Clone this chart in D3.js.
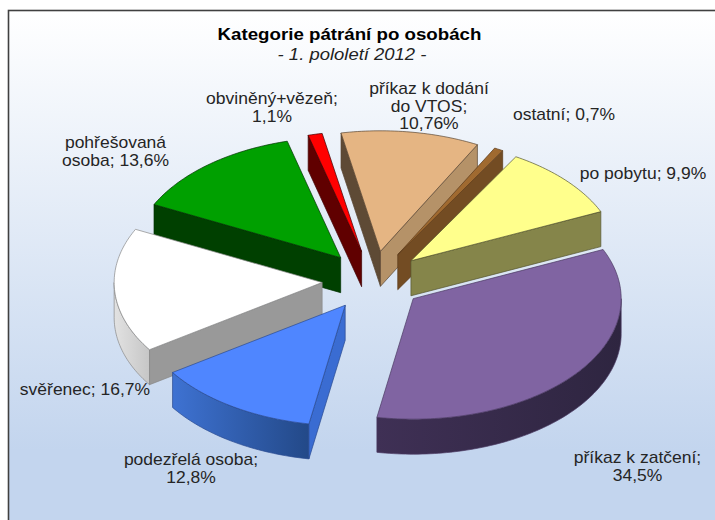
<!DOCTYPE html>
<html lang="cs">
<head>
<meta charset="utf-8">
<script src="https://cdn.jsdelivr.net/npm/d3@7"></script>
<style>
html,body{margin:0;padding:0;background:#fff;overflow:hidden}
svg{display:block}
text{font-family:"Liberation Sans",Arial,sans-serif}
</style>
</head>
<body>
<svg id="chart" width="715" height="520"></svg>
<script>
const categories = ["po pobytu","příkaz k zatčení","podezřelá osoba","svěřenec","pohřešovaná osoba","obviněný+vězeň","příkaz k dodání do VTOS","ostatní"];
const percentValues = [9.9,34.5,12.8,16.7,13.6,1.1,10.76,0.7];
const percentLabels = ["9,9%","34,5%","12,8%","16,7%","13,6%","1,1%","10,76%","0,7%"];
const topColors = ["#FFFF8C","#8064A2","#4F86FF","#FFFFFF","#00A000","#FF0000","#E5B583","#A06A30"];
const startCutColors = ["#85854A","#3C2D50","#3A6CD2","#999999","#004000","#600000","#5E4A35","#734C23"];
const endCutColors = ["#85854A","#3C2D50","#3A6CD2","#999999","#004000","#600000","#B59268","#734C23"];
const wallColorsA = ["#85854A","#3F3055","#3E72D2","#E2E2E2","#004000","#600000","#5E4A35","#734C23"];
const wallColorsB = ["#85854A","#2E2540","#234988","#C6C6C6","#004000","#600000","#5E4A35","#734C23"];
const strokeColors = ["#55552f","#4a3a62","#2a4a90","#888888","#003000","#400000","#5a4632","#5a3a1a"];
const labelLines = [
  {lines:["po pobytu; 9,9%"],x:643,y:179},
  {lines:["příkaz k zatčení;","34,5%"],x:637.5,y:463},
  {lines:["podezřelá osoba;","12,8%"],x:191,y:465},
  {lines:["svěřenec; 16,7%"],x:85,y:395},
  {lines:["pohřešovaná","osoba; 13,6%"],x:115.5,y:148},
  {lines:["obviněný+vězeň;","1,1%"],x:272,y:104},
  {lines:["příkaz k dodání","do VTOS;","10,76%"],x:429,y:94},
  {lines:["ostatní; 0,7%"],x:564,y:120}
];
const titleText = "Kategorie pátrání po osobách";
const subtitleText = "- 1. pololetí 2012 -";

const svg = d3.select("#chart");
const W = 715, H = 520;

// projection of the tilted pie
const cx = 373, cy = 280.5, rx = 208, ry = 120.5, depth = 35, explode = 0.245;
const xUnit = d3.scaleLinear().domain([-1,1]).range([-rx,rx]);
const yUnit = d3.scaleLinear().domain([-1,1]).range([-ry,ry]);
const rot = 30.3*Math.PI/180;

const defs = svg.append("defs");
const bg = defs.append("linearGradient").attr("id","bg").attr("x1",0).attr("y1",0).attr("x2",0).attr("y2",1);
bg.append("stop").attr("offset","0%").attr("stop-color","#FFFFFF");
bg.append("stop").attr("offset","83%").attr("stop-color","#C3D5EE");
bg.append("stop").attr("offset","100%").attr("stop-color","#C3D5EE");

svg.append("rect").attr("x",8.5).attr("y",10.5).attr("width",W+10).attr("height",H+10)
  .attr("fill","url(#bg)").attr("stroke","#404040").attr("stroke-width",1.6);

const pie = d3.pie().sort(null).startAngle(rot).endAngle(rot+2*Math.PI);
const arcs = pie(percentValues).map((a,i)=>({...a,i}));

const line = d3.line().x(d=>d[0]).y(d=>d[1]);
const sweep = (a0,a1)=>{ const n=Math.max(2,Math.ceil((a1-a0)/0.02)); return d3.range(n+1).map(k=>a0+(a1-a0)*k/n); };

// z-order: back to front
const order = [5,6,7,4,3,2,0,1];
order.forEach(i=>{
  const a = arcs[i];
  const mid = (a.startAngle+a.endAngle)/2;
  const ox = cx + xUnit(explode*Math.sin(mid));
  const oy = cy + yUnit(-explode*Math.cos(mid));
  const px = t=>ox+xUnit(Math.sin(t)), py = t=>oy+yUnit(-Math.cos(t));
  const g = svg.append("g").attr("data-cat",categories[i]);
  const sw = .7;

  // outer wall, only the front facing part of the rim
  const ranges = [[Math.PI/2,3*Math.PI/2],[Math.PI/2+2*Math.PI,3*Math.PI/2+2*Math.PI]];
  ranges.forEach(r=>{
    const s = Math.max(a.startAngle,r[0]), e = Math.min(a.endAngle,r[1]);
    if(e<=s) return;
    const ts = sweep(s,e);
    const outer = ts.map(t=>[px(t),py(t)]);
    const lower = ts.slice().reverse().map(t=>[px(t),py(t)+depth]);
    const gid = "wall"+i;
    const xs = outer.map(p=>p[0]);
    const gr = defs.append("linearGradient").attr("id",gid).attr("gradientUnits","userSpaceOnUse")
      .attr("x1",d3.min(xs)).attr("x2",d3.max(xs)).attr("y1",0).attr("y2",0);
    gr.append("stop").attr("offset","0%").attr("stop-color",wallColorsA[i]);
    gr.append("stop").attr("offset","100%").attr("stop-color",wallColorsB[i]);
    g.append("path").attr("d",line(outer.concat(lower))+"Z").attr("fill",`url(#${gid})`)
      .attr("stroke",strokeColors[i]).attr("stroke-width",sw);
  });

  // cut faces
  const cut = (t,color)=>{
    g.append("path").attr("d",line([[ox,oy],[px(t),py(t)],[px(t),py(t)+depth],[ox,oy+depth]])+"Z")
      .attr("fill",color).attr("stroke",strokeColors[i]).attr("stroke-width",sw);
  };
  if(Math.sin(a.startAngle)<0) cut(a.startAngle,startCutColors[i]);
  if(Math.sin(a.endAngle)>0) cut(a.endAngle,endCutColors[i]);

  // top face
  const top = [[ox,oy]].concat(sweep(a.startAngle,a.endAngle).map(t=>[px(t),py(t)]));
  g.append("path").attr("d",line(top)+"Z").attr("fill",topColors[i])
    .attr("stroke",strokeColors[i]).attr("stroke-width",sw);
});

// texts (the reference is stretched slightly in width)
const stretched = (x,y,str,size,sx)=>svg.append("text")
  .attr("transform",`translate(${x},${y}) scale(${sx},1)`)
  .attr("text-anchor","middle").attr("font-size",size).text(str);
stretched(349.5,40,titleText,17,1.1).attr("font-weight","bold").attr("fill","#000");
stretched(352,60,subtitleText,16.5,1.12).attr("font-style","italic").attr("fill","#222");

labelLines.forEach(l=>{
  l.lines.forEach((s,k)=>stretched(l.x,l.y+k*17.5,s,16.2,1.08).attr("fill","#252525"));
});
</script>
</body>
</html>
